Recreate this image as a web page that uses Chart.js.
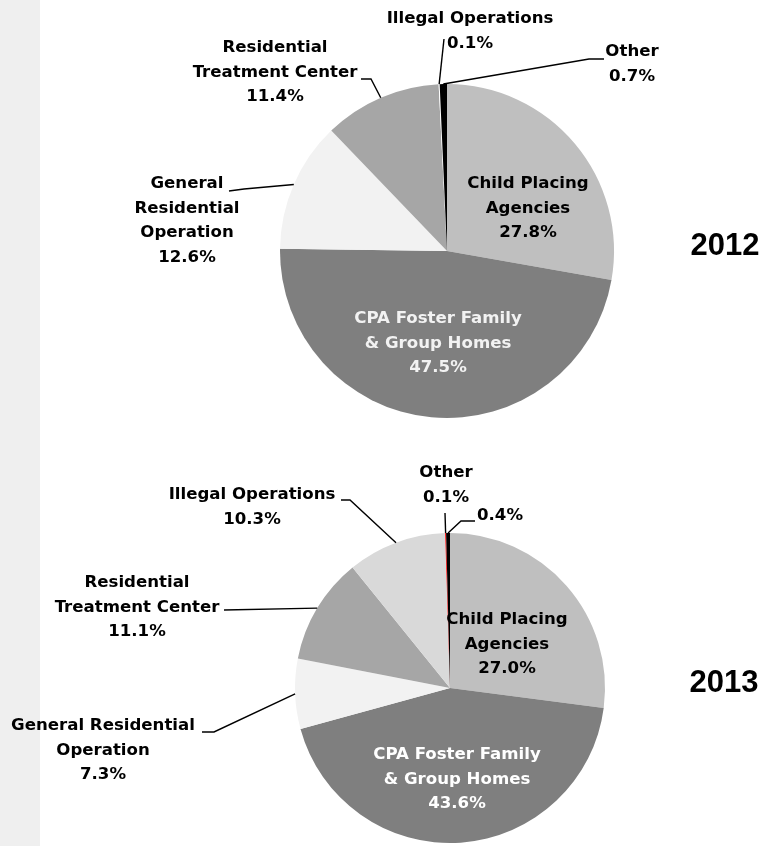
<!DOCTYPE html>
<html>
<head>
<meta charset="utf-8">
<script src="https://cdn.jsdelivr.net/npm/chart.js@4.4.1/dist/chart.umd.min.js"></script>
<style>
html,body{margin:0;padding:0;background:#ffffff;width:763px;height:846px;overflow:hidden;}
#page{position:relative;width:763px;height:846px;}
#strip{position:absolute;left:0;top:0;width:40px;height:846px;background:#efefef;}
.box{position:absolute;left:0;width:763px;height:423px;}
#b1{top:0;} #b2{top:423px;}
</style>
</head>
<body>
<div id="page">
  <div id="strip"></div>
  <div class="box" id="b1"><canvas id="c1" width="763" height="423"></canvas></div>
  <div class="box" id="b2"><canvas id="c2" width="763" height="423"></canvas></div>
</div>
<script>
// ---------- DATA ----------
const years = ['2012', '2013'];
const categories2012 = ['Child Placing Agencies', 'CPA Foster Family & Group Homes', 'General Residential Operation', 'Residential Treatment Center', 'Illegal Operations', 'Other'];
const values2012 = [27.8, 47.5, 12.6, 11.4, 0.1, 0.7];
const categories2013 = ['Child Placing Agencies', 'CPA Foster Family & Group Homes', 'General Residential Operation', 'Residential Treatment Center', 'Illegal Operations', 'Other', 'Other (0.4%)'];
const values2013 = [27.0, 43.6, 7.3, 11.1, 10.3, 0.1, 0.4];

// ---------- STYLE / LAYOUT ----------
const colors2012 = ['#bfbfbf', '#7f7f7f', '#f2f2f2', '#a6a6a6', '#ffffff', '#000000'];
const colors2013 = ['#bfbfbf', '#7f7f7f', '#f2f2f2', '#a6a6a6', '#d9d9d9', '#ff0000', '#000000'];

const LABEL_FONT = 'bold 16.6px "DejaVu Sans", sans-serif';
const LINE_H = 24.5;

// name lines per slice (percentage appended from the data), label centre, leader elbow points
const layout2012 = [
  {name: ['Child Placing', 'Agencies'], x: 528, y: 184, color: '#000'},
  {name: ['CPA Foster Family', '& Group Homes'], x: 438, y: 319, color: '#f2f2f2'},
  {name: ['General', 'Residential', 'Operation'], x: 187, y: 184, color: '#000', leader: [[229, 191], [244, 189]]},
  {name: ['Residential', 'Treatment Center'], x: 275, y: 48, color: '#000', leader: [[361, 79], [371, 79]]},
  {name: ['Illegal Operations'], x: 470, y: 19, color: '#000', leader: [[444, 39]]},
  {name: ['Other'], x: 632, y: 52, color: '#000', leader: [[604, 59], [589, 59]]}
];
const off2 = 423;
const layout2013 = [
  {name: ['Child Placing', 'Agencies'], x: 507, y: 620 - off2, color: '#000'},
  {name: ['CPA Foster Family', '& Group Homes'], x: 457, y: 755 - off2, color: '#ffffff'},
  {name: ['General Residential', 'Operation'], x: 103, y: 726 - off2, color: '#000', leader: [[202, 732 - off2], [214, 732 - off2]]},
  {name: ['Residential', 'Treatment Center'], x: 137, y: 583 - off2, color: '#000', leader: [[224, 610 - off2]]},
  {name: ['Illegal Operations'], x: 252, y: 495 - off2, color: '#000', leader: [[341, 500 - off2], [350, 500 - off2]]},
  {name: ['Other'], x: 446, y: 473 - off2, color: '#000', leader: [[445, 513 - off2]]},
  {name: [], x: 500, y: 516 - off2, color: '#000', leader: [[475, 521 - off2], [461, 521 - off2]]}
];

const labelPlugin = {
  id: 'sliceLabels',
  afterDraw(chart, args, opts) {
    const ctx = chart.ctx;
    const meta = chart.getDatasetMeta(0);
    const vals = chart.data.datasets[0].data;
    ctx.save();
    // leader lines
    ctx.strokeStyle = '#000';
    ctx.lineWidth = 1.4;
    opts.layout.forEach((L, i) => {
      if (!L.leader) return;
      const arc = meta.data[i];
      const p = arc.getProps(['x', 'y', 'startAngle', 'endAngle', 'outerRadius'], true);
      const mid = (p.startAngle + p.endAngle) / 2;
      const ex = p.x + Math.cos(mid) * p.outerRadius;
      const ey = p.y + Math.sin(mid) * p.outerRadius;
      ctx.beginPath();
      ctx.moveTo(L.leader[0][0], L.leader[0][1]);
      for (let k = 1; k < L.leader.length; k++) ctx.lineTo(L.leader[k][0], L.leader[k][1]);
      ctx.lineTo(ex, ey);
      ctx.stroke();
    });
    // texts
    ctx.font = LABEL_FONT;
    ctx.textAlign = 'center';
    ctx.textBaseline = 'middle';
    opts.layout.forEach((L, i) => {
      const lines = L.name.concat([vals[i].toFixed(1) + '%']);
      ctx.fillStyle = L.color;
      lines.forEach((t, k) => ctx.fillText(t, L.x, L.y + k * LINE_H));
    });
    // year
    ctx.fillStyle = '#000';
    ctx.font = 'bold 31px "Liberation Sans", Arial, sans-serif';
    ctx.textAlign = 'center';
    ctx.fillText(opts.year, opts.yearX, opts.yearY);
    ctx.restore();
  }
};

function makePie(id, cats, vals, cols, layout, year, radius, pad, yearX, yearY) {
  return new Chart(document.getElementById(id), {
    type: 'pie',
    data: {labels: cats, datasets: [{data: vals, backgroundColor: cols, borderWidth: 0, hoverOffset: 0, radius: radius}]},
    options: {
      responsive: false,
      animation: false,
      events: [],
      layout: {padding: pad},
      plugins: {
        legend: {display: false},
        tooltip: {enabled: false},
        sliceLabels: {layout: layout, year: year, yearX: yearX, yearY: yearY}
      }
    },
    plugins: [labelPlugin]
  });
}

makePie('c1', categories2012, values2012, colors2012, layout2012, years[0], 167,
  {left: 280, top: 84, right: 149, bottom: 5}, 725, 246);
makePie('c2', categories2013, values2013, colors2013, layout2013, years[1], 155,
  {left: 295, top: 110, right: 158, bottom: 3}, 724, 683 - off2);
</script>
</body>
</html>
